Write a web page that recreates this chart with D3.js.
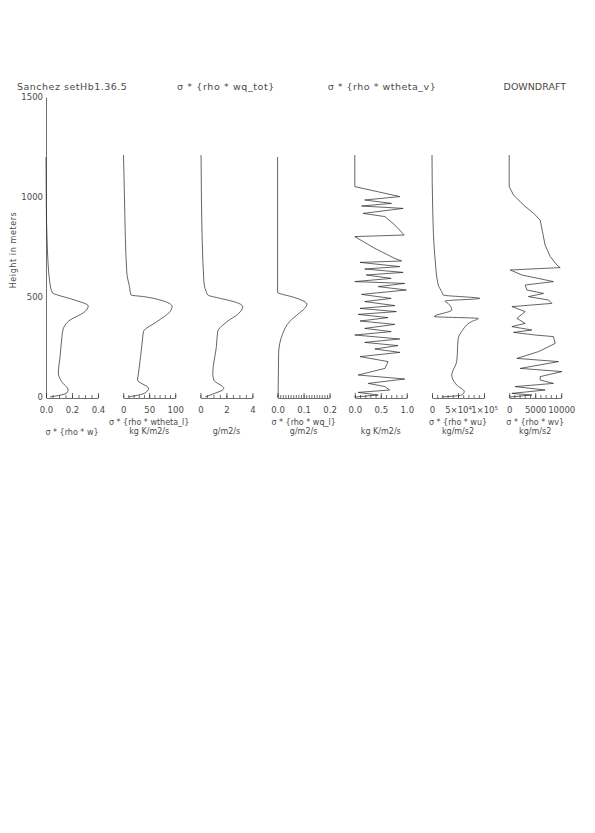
<!DOCTYPE html>
<html>
<head>
<meta charset="utf-8">
<script src="https://cdn.jsdelivr.net/npm/d3@7"></script>
<style>
  body { margin: 0; background: #fff; }
  text { font-family: "DejaVu Sans", sans-serif; fill: #4a4a4a; }
</style>
</head>
<body>
<svg id="chart" width="595" height="833"></svg>
<script>
(function() {
    // heights (m) and values for each profile, read top to bottom
    const hW = [1200, 985, 750, 570, 520, 510, 485, 455, 422, 385, 335, 302, 200, 120, 77, 35, 20, 0];
    const vW = [0, 0.002, 0.01, 0.03, 0.05, 0.09, 0.22, 0.325, 0.29, 0.185, 0.13, 0.123, 0.108, 0.095, 0.12, 0.17, 0.16, 0.03];

    const hThl = [1210, 985, 620, 552, 510, 502, 485, 452, 427, 377, 327, 285, 120, 85, 43, 20, 0];
    const vThl = [0.6, 2.5, 7, 12, 15, 39, 71, 94, 90, 65, 39, 37, 29.5, 27.5, 48.7, 42, 10];

    const hQt = [1210, 985, 585, 527, 510, 493, 477, 452, 418, 377, 327, 252, 118, 85, 43, 10, 0];
    const vQt = [0.05, 0.08, 0.26, 0.44, 0.57, 1.54, 2.56, 3.26, 2.95, 2.05, 1.33, 1.23, 0.95, 1.03, 1.8, 0.77, 0.38];

    const hQl = [1200, 522, 515, 502, 485, 465, 443, 418, 377, 318, 218, 20, 0];
    const vQl = [0, 0, 0.014, 0.053, 0.091, 0.113, 0.104, 0.082, 0.046, 0.02, 0.004, 0.002, 0];

    const hThv = [1210, 1052, 1002, 985, 968, 955, 943, 918, 902, 860, 810, 802, 743, 693, 680, 673, 652, 640,
                  623, 610, 593, 577, 568, 552, 535, 513, 493, 477, 457, 443, 427, 413, 397, 380, 363, 343,
                  327, 310, 290, 273, 257, 240, 223, 202, 177, 143, 110, 90, 68, 52, 35, 23, 10, 0];
    const vThv = [0, 0, 0.865, 0.19, 0.705, 0.13, 0.93, 0.16, 0.58, 0.77, 0.95, 0, 0.385, 0.77, 0.9, 0.1, 0.865, 0.19,
                  0.93, 0.22, 0.7, 0, 0.96, 0.45, 0.99, 0.13, 0.7, 0.19, 0.77, 0.1, 0.8, 0.065, 0.64, 0.1, 0.77, 0.19,
                  0.7, 0, 0.865, 0.19, 0.83, 0.385, 0.865, 0.1, 0.64, 0.58, 0.065, 0.96, 0.26, 0.58, 0.67, 0.065, 0.45, 0];

    const hU = [1210, 943, 693, 560, 527, 510, 493, 480, 468, 435, 402, 393, 377, 327, 293, 177, 110, 60, 27, 10, 0];
    const vU = [0, 1300, 5800, 12000, 18600, 21700, 92000, 25000, 31000, 38000, 4500, 89000, 76000, 57000, 50500,
                47500, 38000, 47500, 62000, 57000, 18600];

    const hV = [1210, 1052, 1010, 960, 918, 885, 827, 760, 702, 660, 647, 635, 610, 577, 560, 535, 518, 502, 485,
                468, 460, 452, 427, 393, 368, 352, 335, 323, 310, 302, 268, 227, 193, 177, 143, 127, 102, 85, 68,
                52, 35, 18, 10, 0];
    const vV = [0, 0, 830, 2750, 4700, 5960, 6400, 6900, 7900, 9170, 9800, 190, 2440, 8500, 3080, 3400, 6600, 3700,
                7560, 8200, 4360, 520, 3080, 1480, 3080, 520, 4360, 830, 5000, 8500, 8850, 5640, 1480, 9490, 2120,
                10130, 5960, 5960, 8500, 1150, 6900, 520, 4360, 190];

    const panels = [
        { h: hW,   v: vW,   max: 0.4,  major: [0, 0.2, 0.4],     fmt: d3.format(".1f"), minor: 0.05,  smooth: true,
          under: ["σ * {rho * w}"] },
        { h: hThl, v: vThl, max: 100,  major: [0, 50, 100],      fmt: d3.format("d"),   minor: 10,    smooth: true,
          under: ["σ * {rho * wtheta_l}", "kg K/m2/s"] },
        { h: hQt,  v: vQt,  max: 4,    major: [0, 2, 4],         fmt: d3.format("d"),   minor: 0.5,   smooth: true,
          under: ["", "g/m2/s"] },
        { h: hQl,  v: vQl,  max: 0.2,  major: [0, 0.1, 0.2],     fmt: d3.format(".1f"), minor: 0.01,  smooth: true,
          under: ["σ * {rho * wq_l}", "g/m2/s"] },
        { h: hThv, v: vThv, max: 1,    major: [0, 0.5, 1],       fmt: d3.format(".1f"), minor: 0.1,   smooth: false,
          under: ["", "kg K/m2/s"] },
        { h: hU,   v: vU,   max: 1e5,  major: [0, 5e4, 1e5],
          fmt: d => d === 0 ? "0" : (d === 5e4 ? "5×10⁴" : "1×10⁵"),            minor: 1e4,   smooth: true,
          under: ["σ * {rho * wu}", "kg/m/s2"] },
        { h: hV,   v: vV,   max: 1e4,  major: [0, 5000, 10000],  fmt: d3.format("d"),   minor: 1000,  smooth: false,
          under: ["σ * {rho * wv}", "kg/m/s2"] }
    ];

    const topTitles = [
        { x: 17,  text: "Sanchez setHb1.36.5", anchor: "start",  sp: 0.5 },
        { x: 226, text: "σ * {rho * wq_tot}",  anchor: "middle", sp: 0.6 },
        { x: 382, text: "σ * {rho * wtheta_v}", anchor: "middle", sp: 0.5 },
        { x: 566, text: "DOWNDRAFT",           anchor: "end",    sp: 0 }
    ];

    const svg = d3.select("#chart");
    const y = d3.scaleLinear().domain([0, 1500]).range([397, 97]);
    const panelW = 52;

    // left axis, first panel only
    const yAxis = svg.append("g")
        .attr("transform", "translate(46,0)")
        .call(d3.axisLeft(y).tickValues([0, 500, 1000, 1500]).tickSize(0).tickPadding(3).tickFormat(d3.format("d")));
    yAxis.select(".domain").attr("stroke", "#333").attr("stroke-width", 0.7);
    yAxis.selectAll("text").style("font-size", "8.5px").style("fill", "#4a4a4a");

    svg.append("text")
        .attr("transform", "translate(16,250) rotate(-90)")
        .attr("text-anchor", "middle")
        .style("font-size", "8px")
        .style("letter-spacing", "0.6px")
        .text("Height in meters");

    panels.forEach((p, i) => {
        const x0 = 46 + i * 77.2;
        const x = d3.scaleLinear().domain([0, p.max]).range([x0, x0 + panelW]);

        const minorTicks = d3.range(0, p.max + p.minor / 2, p.minor);
        const gMinor = svg.append("g").attr("transform", "translate(0,398)")
            .call(d3.axisBottom(x).tickValues(minorTicks).tickSize(-3).tickSizeOuter(0).tickFormat(""));
        gMinor.select(".domain").attr("stroke", "#333").attr("stroke-width", 0.7);
        gMinor.selectAll("line").attr("stroke", "#333").attr("stroke-width", 0.7);

        const gMajor = svg.append("g").attr("transform", "translate(0,398)")
            .call(d3.axisBottom(x).tickValues(p.major).tickSize(-5).tickSizeOuter(0).tickPadding(9).tickFormat(p.fmt));
        gMajor.select(".domain").remove();
        gMajor.selectAll("line").attr("stroke", "#333").attr("stroke-width", 0.7);
        gMajor.selectAll("text").style("font-size", "8.5px").style("fill", "#4a4a4a");

        const pts = d3.zip(p.h, p.v).sort((a, b) => a[0] - b[0]);
        const line = d3.line()
            .x(d => x(d[1]))
            .y(d => y(d[0]))
            .curve(p.smooth ? d3.curveMonotoneY : d3.curveLinear);

        svg.append("path")
            .datum(pts)
            .attr("d", line)
            .attr("fill", "none")
            .attr("stroke", "#222")
            .attr("stroke-width", 0.7);

        // labels under each panel
        const lines = p.under.length === 1 ? [[435, p.under[0]]] : [[425, p.under[0]], [434, p.under[1]]];
        lines.forEach(([ly, t]) => {
            if (!t) return;
            svg.append("text")
                .attr("x", x0 + panelW / 2)
                .attr("y", ly)
                .attr("text-anchor", "middle")
                .style("font-size", "8px")
                .text(t);
        });
    });

    svg.selectAll(".title")
        .data(topTitles)
        .join("text")
        .attr("class", "title")
        .attr("x", d => d.x)
        .attr("y", 90)
        .attr("text-anchor", d => d.anchor)
        .style("font-size", "9.5px")
        .style("letter-spacing", d => d.sp + "px")
        .text(d => d.text);
})();
</script>
</body>
</html>
